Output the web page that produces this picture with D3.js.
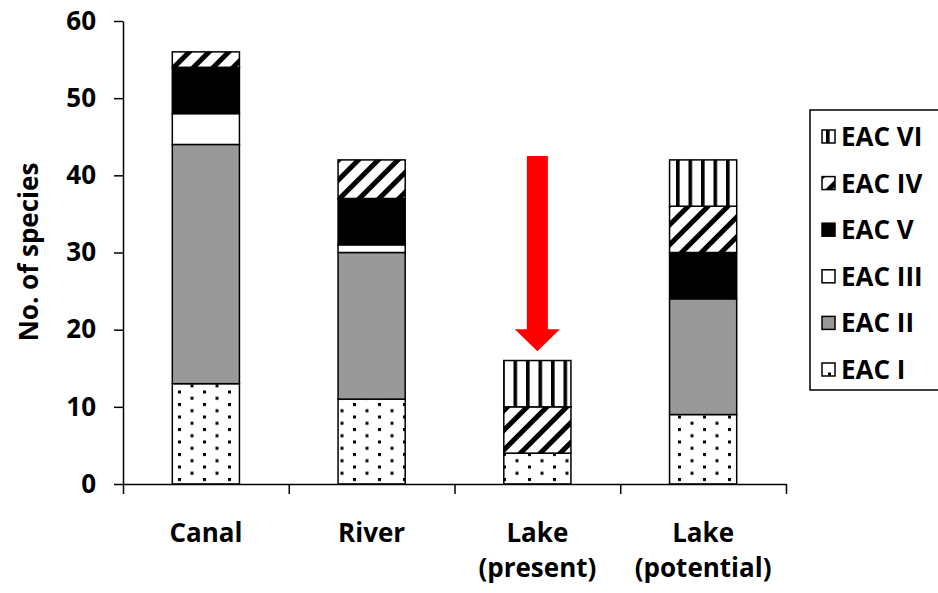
<!DOCTYPE html>
<html>
<head>
<meta charset="utf-8">
<script src="https://cdn.jsdelivr.net/npm/d3@7"></script>
<style>
  html, body { margin: 0; padding: 0; background: #fff; }
  svg { display: block; }
  text { font-family: "Open Sans", "DejaVu Sans", sans-serif; font-weight: 700; fill: #000; }
</style>
</head>
<body>
<svg id="chart" width="938" height="593"></svg>
<script>
// Species counts per ecological affinity class (EAC) at each site
const categories = ["Canal", "River", "Lake (present)", "Lake (potential)"];
const categoryLines = [["Canal"], ["River"], ["Lake", "(present)"], ["Lake", "(potential)"]];
const eacI   = [13, 11, 4, 9];
const eacII  = [31, 19, 0, 15];
const eacIII = [4, 1, 0, 0];
const eacV   = [6, 6, 0, 6];
const eacIV  = [2, 5, 6, 6];
const eacVI  = [0, 0, 6, 6];

// Stacking order, bottom to top
const seriesKeys = ["EAC I", "EAC II", "EAC III", "EAC V", "EAC IV", "EAC VI"];
const seriesValues = [eacI, eacII, eacIII, eacV, eacIV, eacVI];
const yTicks = [0, 10, 20, 30, 40, 50, 60];

// Arrow annotation over the present-day lake bar (in data units)
const arrowCategory = "Lake (present)";
const arrowFrom = 42.5;
const arrowTo = 17.2;

const rows = categories.map((c, i) => {
  const r = { category: c };
  seriesKeys.forEach((k, j) => { r[k] = seriesValues[j][i]; });
  return r;
});

const svg = d3.select("#chart");
const plotLeft = 123, plotRight = 786, plotTop = 21, plotBottom = 484;

const x = d3.scaleBand().domain(categories).range([plotLeft, plotRight]).padding(0);
const y = d3.scaleLinear().domain([0, 60]).range([plotBottom, plotTop]);
const barW = x.bandwidth() * 0.405;

// Fill patterns for each class
const defs = svg.append("defs");

const dots = defs.append("pattern").attr("id", "p-dots")
  .attr("patternUnits", "userSpaceOnUse").attr("width", 25).attr("height", 12.5)
  .attr("x", 3).attr("y", 3);
dots.append("rect").attr("width", 25).attr("height", 12.5).attr("fill", "#fff");
dots.append("rect").attr("x", 0).attr("y", 0).attr("width", 3).attr("height", 3).attr("fill", "#000");
dots.append("rect").attr("x", 12.5).attr("y", 6.25).attr("width", 3).attr("height", 3).attr("fill", "#000");

const diag = defs.append("pattern").attr("id", "p-diag")
  .attr("patternUnits", "userSpaceOnUse").attr("width", 14).attr("height", 14)
  .attr("patternTransform", "rotate(45)");
diag.append("rect").attr("width", 14).attr("height", 14).attr("fill", "#fff");
diag.append("rect").attr("x", 0).attr("y", 0).attr("width", 5).attr("height", 14).attr("fill", "#000");

const vert = defs.append("pattern").attr("id", "p-vert")
  .attr("patternUnits", "userSpaceOnUse").attr("width", 12.5).attr("height", 10)
  .attr("x", 1);
vert.append("rect").attr("width", 12.5).attr("height", 10).attr("fill", "#fff");
vert.append("rect").attr("x", 0).attr("y", 0).attr("width", 3.6).attr("height", 10).attr("fill", "#000");

const fills = {
  "EAC I": "url(#p-dots)",
  "EAC II": "#999999",
  "EAC III": "#ffffff",
  "EAC V": "#000000",
  "EAC IV": "url(#p-diag)",
  "EAC VI": "url(#p-vert)"
};

// Stacked bars
const stacked = d3.stack().keys(seriesKeys)(rows);
const layers = svg.append("g").selectAll("g").data(stacked).join("g")
  .attr("fill", d => fills[d.key]);
layers.selectAll("rect")
  .data(d => d.filter(s => s[1] - s[0] > 0))
  .join("rect")
  .attr("x", d => x(d.data.category) + (x.bandwidth() - barW) / 2)
  .attr("y", d => y(d[1]))
  .attr("width", barW)
  .attr("height", d => y(d[0]) - y(d[1]))
  .attr("stroke", "#000")
  .attr("stroke-width", 1.5);

// Y axis
const yAxis = svg.append("g").attr("transform", `translate(${plotLeft},0)`)
  .call(d3.axisLeft(y).tickValues(yTicks).tickSize(9).tickSizeOuter(0).tickPadding(18));
yAxis.select(".domain").attr("stroke", "#000").attr("stroke-width", 1.5);
yAxis.selectAll(".tick line").attr("stroke", "#000").attr("stroke-width", 1.5);
yAxis.selectAll(".tick text")
  .style("font-family", "'Open Sans', sans-serif").style("font-weight", 700)
  .style("font-size", "26px").attr("fill", "#000");

// X axis: a line with tick marks on the category boundaries
const xb = d3.scaleLinear().domain([0, categories.length]).range([plotLeft, plotRight]);
const xAxis = svg.append("g").attr("transform", `translate(0,${plotBottom})`)
  .call(d3.axisBottom(xb).tickValues(d3.range(categories.length + 1)).tickFormat("").tickSize(10).tickSizeOuter(0));
xAxis.select(".domain").attr("stroke", "#000").attr("stroke-width", 1.5);
xAxis.selectAll(".tick line").attr("stroke", "#000").attr("stroke-width", 1.5);

// Category labels
const catLabels = svg.append("g").selectAll("text").data(categories).join("text")
  .attr("x", d => x(d) + x.bandwidth() / 2)
  .attr("y", 542)
  .attr("text-anchor", "middle")
  .style("font-size", "26px");
catLabels.each(function(d, i) {
  const t = d3.select(this);
  categoryLines[i].forEach((line, k) => {
    t.append("tspan").attr("x", x(d) + x.bandwidth() / 2).attr("dy", k === 0 ? 0 : 35).text(line);
  });
});

// Y axis title
svg.append("text")
  .attr("transform", `translate(38,252) rotate(-90)`)
  .attr("text-anchor", "middle")
  .style("font-size", "26px")
  .text("No. of species");

// Red arrow
const ax = x(arrowCategory) + x.bandwidth() / 2;
const y0 = y(arrowFrom), y1 = y(arrowTo);
const shaft = 10.5, head = 22.5, headLen = 22;
svg.append("path")
  .attr("d", `M${ax - shaft},${y0} L${ax + shaft},${y0} L${ax + shaft},${y1 - headLen} L${ax + head},${y1 - headLen} L${ax},${y1} L${ax - head},${y1 - headLen} L${ax - shaft},${y1 - headLen} Z`)
  .attr("fill", "#ff0000");

// Legend, top entry is the top of the stack
const legendKeys = seriesKeys.slice().reverse();
const legend = svg.append("g");
legend.append("rect")
  .attr("x", 810).attr("y", 110).attr("width", 140).attr("height", 280)
  .attr("fill", "#fff").attr("stroke", "#000").attr("stroke-width", 1.5);
const items = legend.selectAll("g.item").data(legendKeys).join("g")
  .attr("class", "item")
  .attr("transform", (d, i) => `translate(0,${136.5 + i * 46.6})`);
items.append("rect")
  .attr("x", 822).attr("y", -6.5).attr("width", 13).attr("height", 13)
  .attr("fill", d => fills[d]).attr("stroke", "#000").attr("stroke-width", 1.5);
items.append("text")
  .attr("x", 841).attr("y", 9.5)
  .style("font-size", "26px")
  .text(d => d);
</script>
</body>
</html>
